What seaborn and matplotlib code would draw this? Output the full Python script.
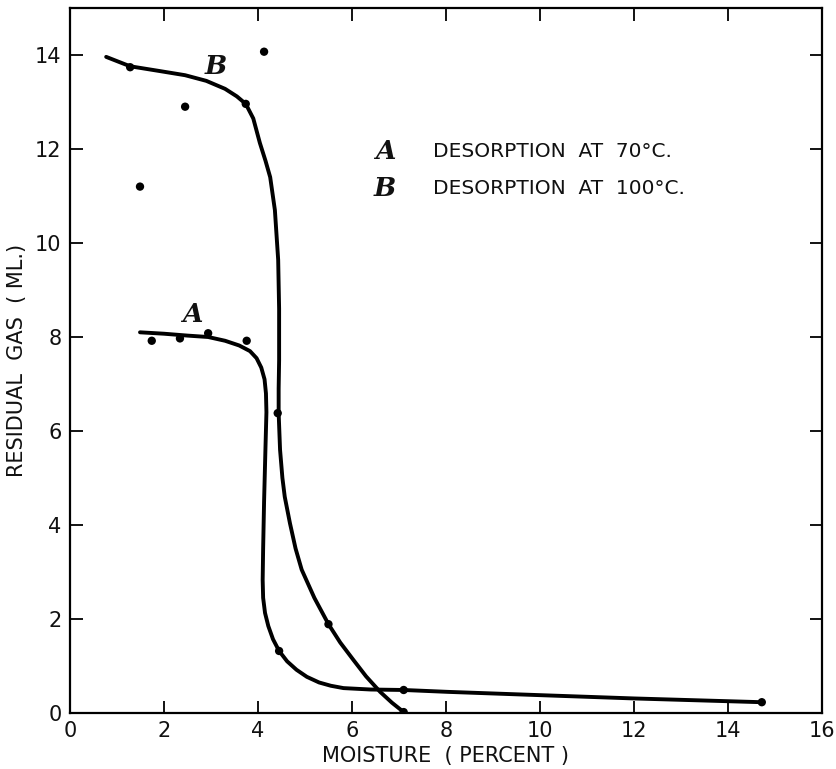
import numpy as np
import pandas as pd
import seaborn as sns
import matplotlib.pyplot as plt

# measured points (moisture %, residual gas ml)
a_x = [1.74, 2.34, 2.94, 3.76, 4.45, 7.10, 14.72]
a_y = [7.92, 7.97, 8.08, 7.92, 1.32, 0.49, 0.23]
b_x = [1.28, 1.49, 2.45, 3.74, 4.13, 4.42, 5.50, 7.10]
b_y = [13.74, 11.20, 12.90, 12.96, 14.07, 6.38, 1.89, 0.02]

# hand-drawn curves
curve_a_x = [1.49, 2.00, 2.50, 2.94, 3.30, 3.60, 3.83, 3.97, 4.07, 4.14, 4.17, 4.18,
             4.16, 4.13, 4.11, 4.10, 4.11, 4.15, 4.22, 4.32, 4.45, 4.62, 4.82, 5.04,
             5.30, 5.55, 5.82, 6.40, 7.10, 8.04, 10.0, 12.0, 14.72]
curve_a_y = [8.10, 8.07, 8.03, 8.00, 7.92, 7.82, 7.70, 7.55, 7.35, 7.10, 6.80, 6.40,
             5.66, 4.50, 3.50, 2.83, 2.45, 2.13, 1.85, 1.57, 1.32, 1.10, 0.92, 0.77,
             0.65, 0.58, 0.53, 0.50, 0.49, 0.45, 0.38, 0.31, 0.23]
curve_b_x = [0.77, 1.28, 1.90, 2.45, 2.90, 3.30, 3.55, 3.74, 3.90, 4.04, 4.16, 4.26,
             4.36, 4.43, 4.45, 4.45, 4.44, 4.44, 4.47, 4.52, 4.57, 4.68, 4.80, 4.93,
             5.20, 5.50, 5.75, 6.03, 6.30, 6.60, 6.85, 7.10]
curve_b_y = [13.96, 13.76, 13.66, 13.57, 13.45, 13.28, 13.12, 12.96, 12.65, 12.13, 11.75, 11.40,
             10.70, 9.64, 8.60, 7.50, 6.90, 6.38, 5.60, 5.00, 4.60, 4.04, 3.50, 3.05,
             2.45, 1.89, 1.50, 1.13, 0.78, 0.45, 0.22, 0.02]

x_ticks = [0, 2, 4, 6, 8, 10, 12, 14, 16]
y_ticks = [0, 2, 4, 6, 8, 10, 12, 14]

sns.set_style("ticks")
plt.rcParams['font.family'] = ['DejaVu Sans']

fig = plt.figure(figsize=(8.36, 7.69), dpi=100)
ax = fig.add_axes([0.0837, 0.0728, 0.8995, 0.9168])

ca = pd.DataFrame({'x': curve_a_x, 'y': curve_a_y})
cb = pd.DataFrame({'x': curve_b_x, 'y': curve_b_y})
sns.lineplot(data=ca, x='x', y='y', sort=False, estimator=None, color='black', lw=2.8, ax=ax)
sns.lineplot(data=cb, x='x', y='y', sort=False, estimator=None, color='black', lw=2.8, ax=ax)

pts = pd.DataFrame({'x': a_x + b_x, 'y': a_y + b_y})
sns.scatterplot(data=pts, x='x', y='y', color='black', s=36, edgecolor='none', ax=ax, zorder=5)

ax.set_xlim(0, 16)
ax.set_ylim(0, 15)
ax.set_xticks(x_ticks)
ax.set_yticks(y_ticks)
ax.tick_params(direction='in', length=9, width=1.3, top=True, right=True,
               labelsize=15, pad=6, color='black', labelcolor='#111111')
for s in ax.spines.values():
    s.set_linewidth(1.6)
    s.set_color('black')

ax.set_xlabel('MOISTURE  ( PERCENT )', fontsize=15, labelpad=3, color='#111111')
ax.set_ylabel('RESIDUAL  GAS  ( ML.)', fontsize=15, labelpad=6, color='#111111')

# curve labels and key
lab = dict(fontsize=19, fontstyle='italic', fontweight='bold', family='DejaVu Serif', color='#111111')
ax.text(3.1, 13.75, 'B', ha='center', va='center', **lab)
ax.text(2.6, 8.47, 'A', ha='center', va='center', **lab)
ax.text(6.7, 11.94, 'A', ha='center', va='center', **lab)
ax.text(6.7, 11.15, 'B', ha='center', va='center', **lab)
ax.text(7.72, 11.94, 'DESORPTION  AT  70°C.', ha='left', va='center', fontsize=14.5, color='#111111')
ax.text(7.72, 11.15, 'DESORPTION  AT  100°C.', ha='left', va='center', fontsize=14.5, color='#111111')

fig.savefig('out.png', dpi=100)
